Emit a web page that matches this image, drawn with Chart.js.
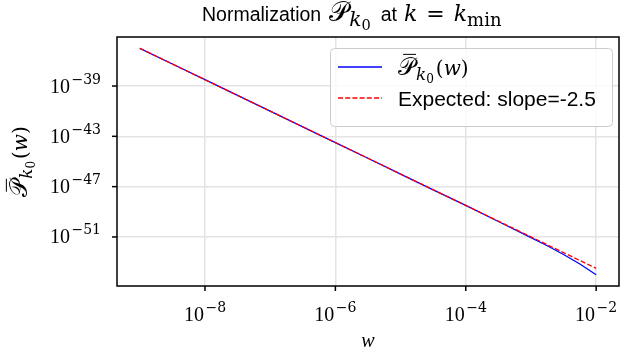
<!DOCTYPE html>
<html>
<head>
<meta charset="utf-8">
<script src="https://cdn.jsdelivr.net/npm/chart.js@4.4.1/dist/chart.umd.min.js"></script>
<style>
  html, body { margin: 0; padding: 0; background: #fff; }
  #wrap { width: 621px; height: 360px; position: relative; }
</style>
</head>
<body>
<div id="wrap"><canvas id="normChart"></canvas></div>
<script>
// values (log-spaced w)
const wValues = [1e-9, 3.16e-9, 1e-8, 3.16e-8, 1e-7, 3.16e-7, 1e-6, 3.16e-6, 1e-5, 3.16e-5, 1e-4, 3.16e-4, 1e-3, 1.78e-3, 3.16e-3, 5.62e-3, 1e-2];
const normValues = [1.0e-36, 5.6e-38, 3.2e-39, 1.8e-40, 1.0e-41, 5.6e-43, 3.2e-44, 1.8e-45, 1.0e-46, 5.6e-48, 3.2e-49, 1.7e-50, 8.9e-52, 2.0e-52, 4.0e-53, 7.1e-54, 1.0e-54];
const expectedW = [1e-9, 1e-2];
const expectedValues = [1.0e-36, 3.2e-54];
const xTicks = [1e-8, 1e-6, 1e-4, 1e-2];
const xTickExp = ["\u22128", "\u22126", "\u22124", "\u22122"];
const yTicks = [1e-39, 1e-43, 1e-47, 1e-51];
const yTickExp = ["\u221239", "\u221243", "\u221247", "\u221251"];
const legendText = "Expected: slope=-2.5";

const SANS = '"Liberation Sans", Arial, sans-serif';
const SERIF = '"Liberation Serif", "Times New Roman", serif';
const MATH = '"DejaVu Serif", serif';
const SCRIPT = '"DejaVu Serif", "DejaVu Sans", serif';

// draw a row of text pieces (for the little bits of math)
function drawRuns(ctx, runs, x, y, align) {
  let total = 0;
  runs.forEach(r => {
    ctx.font = r.f;
    r.w = ctx.measureText(r.t).width;
    total += r.w + (r.gap || 0);
  });
  let cx = x;
  if (align === "center") cx = x - total / 2;
  if (align === "right") cx = x - total;
  ctx.textBaseline = "alphabetic";
  ctx.textAlign = "left";
  runs.forEach(r => {
    if (r.x !== undefined) cx = r.x;
    ctx.font = r.f;
    ctx.fillText(r.t, cx, y + (r.dy || 0));
    if (r.bar) {
      ctx.save();
      ctx.lineWidth = 1;
      ctx.beginPath();
      ctx.moveTo(cx + r.w * 0.3, y - r.bar);
      ctx.lineTo(cx + r.w + 1, y - r.bar);
      ctx.stroke();
      ctx.restore();
    }
    cx += r.w + (r.gap || 0);
  });
  return total;
}

function pRuns(size, x, sub) {
  sub = sub || 0.7;
  return [
    { t: "\u{1D4AB}", f: `${size}px ${SCRIPT}`, bar: size * 0.86, x: x, gap: 1 },
    { t: "k", f: `italic ${size * sub}px ${MATH}`, dy: size * 0.2 },
    { t: "0", f: `${size * sub * 0.72}px ${MATH}`, dy: size * 0.32, gap: 2 }
  ];
}

const textPlugin = {
  id: "textPlugin",
  afterDraw(chart) {
    const ctx = chart.ctx;
    const a = chart.chartArea;
    const xs = chart.scales.x, ys = chart.scales.y;
    ctx.save();
    ctx.fillStyle = "#000";
    ctx.strokeStyle = "#000";

    // frame
    ctx.lineWidth = 1.5;
    ctx.strokeRect(a.left, a.top, a.right - a.left, a.bottom - a.top);

    // x ticks
    xTicks.forEach((v, i) => {
      const px = xs.getPixelForValue(v);
      ctx.beginPath(); ctx.moveTo(px, a.bottom); ctx.lineTo(px, a.bottom + 5); ctx.stroke();
      drawRuns(ctx, [
        { t: "10", f: `20px ${SERIF}`, gap: 1.5 },
        { t: xTickExp[i], f: `14px ${MATH}`, dy: -9 }
      ], px, 321, "center");
    });
    // y ticks
    yTicks.forEach((v, i) => {
      const py = ys.getPixelForValue(v);
      ctx.beginPath(); ctx.moveTo(a.left - 5, py); ctx.lineTo(a.left, py); ctx.stroke();
      drawRuns(ctx, [
        { t: "10", f: `20px ${SERIF}`, gap: 1.5 },
        { t: yTickExp[i], f: `14px ${MATH}`, dy: -9 }
      ], 101, py + 6.5, "right");
    });

    // title
    const titleRuns = [{ t: "Normalization", f: `19.5px ${SANS}`, x: 202, gap: 8 }]
      .concat(pRuns(27, undefined, 0.75))
      .concat([
        { t: "at", f: `19.5px ${SANS}`, gap: 7 },
        { t: "k", f: `italic 22px ${MATH}`, gap: 9 },
        { t: "=", f: `22px ${MATH}`, gap: 9 },
        { t: "k", f: `italic 22px ${MATH}` },
        { t: "min", f: `18px ${MATH}`, dy: 4.5 }
      ]);
    titleRuns[3].gap = 10;
    drawRuns(ctx, titleRuns, 0, 21, "left");

    // axis labels
    drawRuns(ctx, [{ t: "w", f: `italic 20px ${SERIF}` }], (a.left + a.right) / 2, 347, "center");
    ctx.save();
    ctx.translate(27, (a.top + a.bottom) / 2);
    ctx.rotate(-Math.PI / 2);
    drawRuns(ctx, pRuns(24).concat([
      { t: "(", f: `20px ${MATH}` },
      { t: "w", f: `italic 20px ${MATH}` },
      { t: ")", f: `20px ${MATH}` }
    ]), 0, 0, "center");
    ctx.restore();

    // legend
    ctx.save();
    ctx.fillStyle = "rgba(255,255,255,0.8)";
    ctx.strokeStyle = "#cccccc";
    ctx.lineWidth = 1;
    ctx.beginPath();
    ctx.roundRect(330.5, 48.5, 282, 78, 4);
    ctx.fill(); ctx.stroke();
    ctx.lineWidth = 1.3;
    ctx.strokeStyle = "#0000ff";
    ctx.beginPath(); ctx.moveTo(338, 67); ctx.lineTo(382, 67); ctx.stroke();
    ctx.strokeStyle = "#ff0000";
    ctx.setLineDash([5, 2.2]);
    ctx.beginPath(); ctx.moveTo(338, 98); ctx.lineTo(382, 98); ctx.stroke();
    ctx.restore();
    drawRuns(ctx, pRuns(24, 398).concat([
      { t: "(", f: `20px ${MATH}` },
      { t: "w", f: `italic 20px ${MATH}` },
      { t: ")", f: `20px ${MATH}` }
    ]), 398, 75, "left");
    drawRuns(ctx, [{ t: legendText, f: `21px ${SANS}` }], 398, 106, "left");

    ctx.restore();
  }
};

const ctx = document.getElementById("normChart").getContext("2d");
const normChart = new Chart(ctx, {
  type: "line",
  data: {
    datasets: [
      {
        label: "P_k0(w)",
        data: wValues.map((w, i) => ({ x: w, y: normValues[i] })),
        borderColor: "#0000ff",
        borderWidth: 1.3,
        pointRadius: 0,
        fill: false,
        order: 1,
      },
      {
        label: legendText,
        data: expectedW.map((w, i) => ({ x: w, y: expectedValues[i] })),
        borderColor: "#ff0000",
        borderWidth: 1.3,
        borderDash: [5, 2.2],
        pointRadius: 0,
        fill: false,
        order: 0,
      },
    ],
  },
  options: {
    responsive: true,
    maintainAspectRatio: false,
    animation: false,
    layout: { padding: { left: 117, right: 2, top: 37, bottom: 74 } },
    plugins: { legend: { display: false }, tooltip: { enabled: false } },
    scales: {
      x: {
        type: "logarithmic",
        bounds: "data",
        min: 4.47e-10,
        max: 2.24e-2,
        afterBuildTicks: (s) => { s.ticks = xTicks.map(v => ({ value: v })); },
        ticks: { display: false },
        grid: { color: "#e3e3e3", lineWidth: 1.5, drawTicks: false },
        border: { display: false },
      },
      y: {
        type: "logarithmic",
        bounds: "data",
        min: 1.26e-55,
        max: 7.9e-36,
        afterBuildTicks: (s) => { s.ticks = yTicks.map(v => ({ value: v })); },
        ticks: { display: false },
        grid: { color: "#e3e3e3", lineWidth: 1.5, drawTicks: false },
        border: { display: false },
      },
    },
  },
  plugins: [textPlugin],
});
</script>
</body>
</html>
